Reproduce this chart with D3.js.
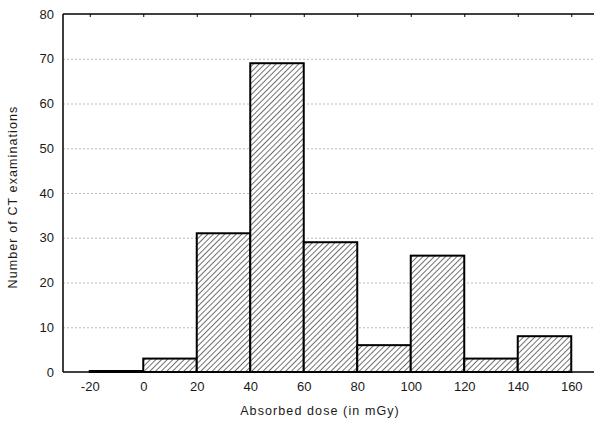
<!DOCTYPE html>
<html>
<head>
<meta charset="utf-8">
<script src="https://cdn.jsdelivr.net/npm/d3@7"></script>
<style>
html,body{margin:0;padding:0;background:#fff;}
svg{display:block;}
text{font-family:Arial, "Liberation Sans", sans-serif;}
</style>
</head>
<body>
<svg id="chart" width="594" height="431"></svg>
<script>
const binStarts = [-20, 0, 20, 40, 60, 80, 100, 120, 140];
const binWidth = 20;
const counts = [0, 3, 31, 69, 29, 6, 26, 3, 8];
const xTicks = [-20, 0, 20, 40, 60, 80, 100, 120, 140, 160];
const yTicks = [0, 10, 20, 30, 40, 50, 60, 70, 80];
const xTitle = "Absorbed dose (in mGy)";
const yTitle = "Number of CT examinations";

const svg = d3.select("#chart");
const W = 594, H = 431;
svg.append("rect").attr("width", W).attr("height", H).attr("fill", "#fff");

const x = d3.scaleLinear().domain([-30, 170]).range([63, 598]);
const y = d3.scaleLinear().domain([0, 80]).range([372, 14]);

const defs = svg.append("defs");
const pat = defs.append("pattern")
  .attr("id", "hatch")
  .attr("patternUnits", "userSpaceOnUse")
  .attr("width", 4).attr("height", 4)
  .attr("patternTransform", "rotate(45)");
pat.append("rect").attr("width", 4).attr("height", 4).attr("fill", "#fff");
pat.append("line").attr("x1", 0).attr("y1", 0).attr("x2", 0).attr("y2", 4)
  .attr("stroke", "#222").attr("stroke-width", 1.3);

// gridlines
svg.append("g")
  .selectAll("line")
  .data(yTicks.filter(d => d > 0 && d < 80))
  .join("line")
  .attr("x1", x(-30)).attr("x2", W)
  .attr("y1", d => y(d) + 0.5).attr("y2", d => y(d) + 0.5)
  .attr("stroke", "#bbb")
  .attr("stroke-width", 1)
  .attr("stroke-dasharray", "2,2");

// bars
const bins = binStarts.map((s, i) => ({s, v: counts[i]}));
svg.append("g")
  .selectAll("rect")
  .data(bins)
  .join("rect")
  .attr("x", d => x(d.s))
  .attr("y", d => y(d.v) - (d.v === 0 ? 1 : 0))
  .attr("width", d => x(d.s + binWidth) - x(d.s))
  .attr("height", d => y(0) - y(d.v) + (d.v === 0 ? 1 : 0))
  .attr("fill", "url(#hatch)")
  .attr("stroke", "#000")
  .attr("stroke-width", 2);

// axes
const fmt = d => String(d);
const bottomAxis = d3.axisBottom(x).tickValues(xTicks).tickSize(0).tickPadding(10).tickFormat(fmt);
const gB = svg.append("g").attr("transform", `translate(0,${y(0)})`).call(bottomAxis);
gB.select(".domain").remove();
gB.insert("line", ":first-child").attr("x1", x(-30)).attr("x2", W).attr("y1", 0).attr("y2", 0)
  .attr("stroke", "#000").attr("stroke-width", 1.5);
gB.selectAll(".tick text").attr("font-size", 13).attr("fill", "#1a1a1a");

const topAxis = d3.axisTop(x).tickValues(xTicks).tickSize(-3).tickFormat("");
const gT = svg.append("g").attr("transform", `translate(0,${y(80)})`).call(topAxis);
gT.select(".domain").remove();
gT.selectAll(".tick line").attr("stroke", "#000");
gT.append("line").attr("x1", x(-30)).attr("x2", W).attr("y1", 0).attr("y2", 0)
  .attr("stroke", "#000").attr("stroke-width", 1.5);

const leftAxis = d3.axisLeft(y).tickValues(yTicks).tickSize(0).tickPadding(9).tickFormat(fmt);
const gL = svg.append("g").attr("transform", `translate(${x(-30)},0)`).call(leftAxis);
gL.select(".domain").remove();
gL.append("line").attr("x1", 0).attr("x2", 0).attr("y1", y(80)).attr("y2", y(0))
  .attr("stroke", "#000").attr("stroke-width", 1.5);
gL.selectAll(".tick text").attr("font-size", 13).attr("fill", "#1a1a1a");

// titles
svg.append("text")
  .attr("x", 320).attr("y", 415)
  .attr("text-anchor", "middle")
  .attr("font-size", 12.5)
  .attr("letter-spacing", 1.1)
  .attr("fill", "#1a1a1a")
  .text(xTitle);

svg.append("text")
  .attr("transform", `translate(17,${197}) rotate(-90)`)
  .attr("text-anchor", "middle")
  .attr("font-size", 12.5)
  .attr("letter-spacing", 1.1)
  .attr("fill", "#1a1a1a")
  .text(yTitle);
</script>
</body>
</html>
